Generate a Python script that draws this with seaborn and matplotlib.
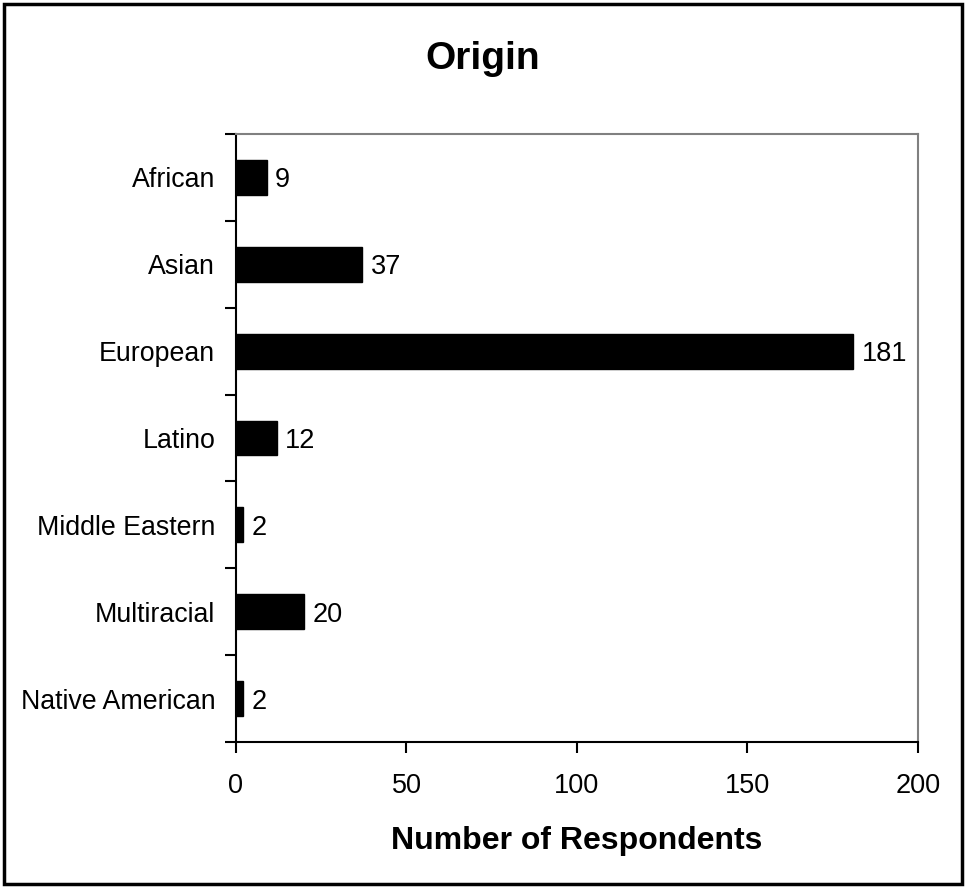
import matplotlib
matplotlib.use("Agg")
import matplotlib.pyplot as plt
import seaborn as sns
import pandas as pd
from matplotlib.patches import Rectangle
from matplotlib.ticker import FixedLocator

categories = ["African", "Asian", "European", "Latino", "Middle Eastern",
              "Multiracial", "Native American"]
respondents = [9, 37, 181, 12, 2, 20, 2]
x_ticks = [0, 50, 100, 150, 200]

sns.set_theme(style="white")
plt.rcParams["font.family"] = ["Liberation Sans", "DejaVu Sans"]
plt.rcParams["text.color"] = "black"
plt.rcParams["xtick.color"] = "black"
plt.rcParams["ytick.color"] = "black"
plt.rcParams["axes.labelcolor"] = "black"

df = pd.DataFrame({"Origin": categories, "Respondents": respondents})

fig = plt.figure(figsize=(9.66, 8.88), dpi=100)
ax = fig.add_axes([0.2443, 0.1644, 0.9503 - 0.2443, 0.8491 - 0.1644])

sns.barplot(data=df, y="Origin", x="Respondents", orient="h",
            color="black", width=0.4, ax=ax, saturation=1)

for patch in ax.patches:
    patch.set_facecolor("black")
    patch.set_edgecolor("black")

ax.set_xlim(0, 200)
ax.set_ylim(len(categories) - 0.5, -0.5)
ax.set_xticks(x_ticks)
ax.set_xticklabels([str(t) for t in x_ticks], fontsize=19.5)
ax.tick_params(axis="y", labelsize=19.3, length=0, pad=15)
ax.yaxis.set_minor_locator(FixedLocator([i - 0.5 for i in range(len(categories) + 1)]))
ax.tick_params(axis="y", which="minor", length=8, width=1.5, color="black", direction="out", left=True)
ax.tick_params(axis="x", length=8, width=1.5, color="black", direction="out", bottom=True, pad=14)

for v, y in zip(respondents, range(len(categories))):
    ax.annotate(str(v), xy=(v, y), xytext=(6, 0), textcoords="offset points",
                va="center_baseline", ha="left", fontsize=19.5)

ax.set_ylabel("")
ax.set_xlabel("Number of Respondents", fontsize=23, fontweight="bold", labelpad=20)
fig.suptitle("Origin", fontsize=28, fontweight="bold", x=0.5, y=1 - 59 / 888, va="center")

for side in ["left", "bottom"]:
    ax.spines[side].set_color("black")
    ax.spines[side].set_linewidth(1.5)
for side in ["top", "right"]:
    ax.spines[side].set_color("#808080")
    ax.spines[side].set_linewidth(1.5)

fig.patches.append(Rectangle((0.004, 0.004), 0.992, 0.992, transform=fig.transFigure,
                             fill=False, edgecolor="black", linewidth=2.5))

fig.savefig("out.png", dpi=100, facecolor="white")
